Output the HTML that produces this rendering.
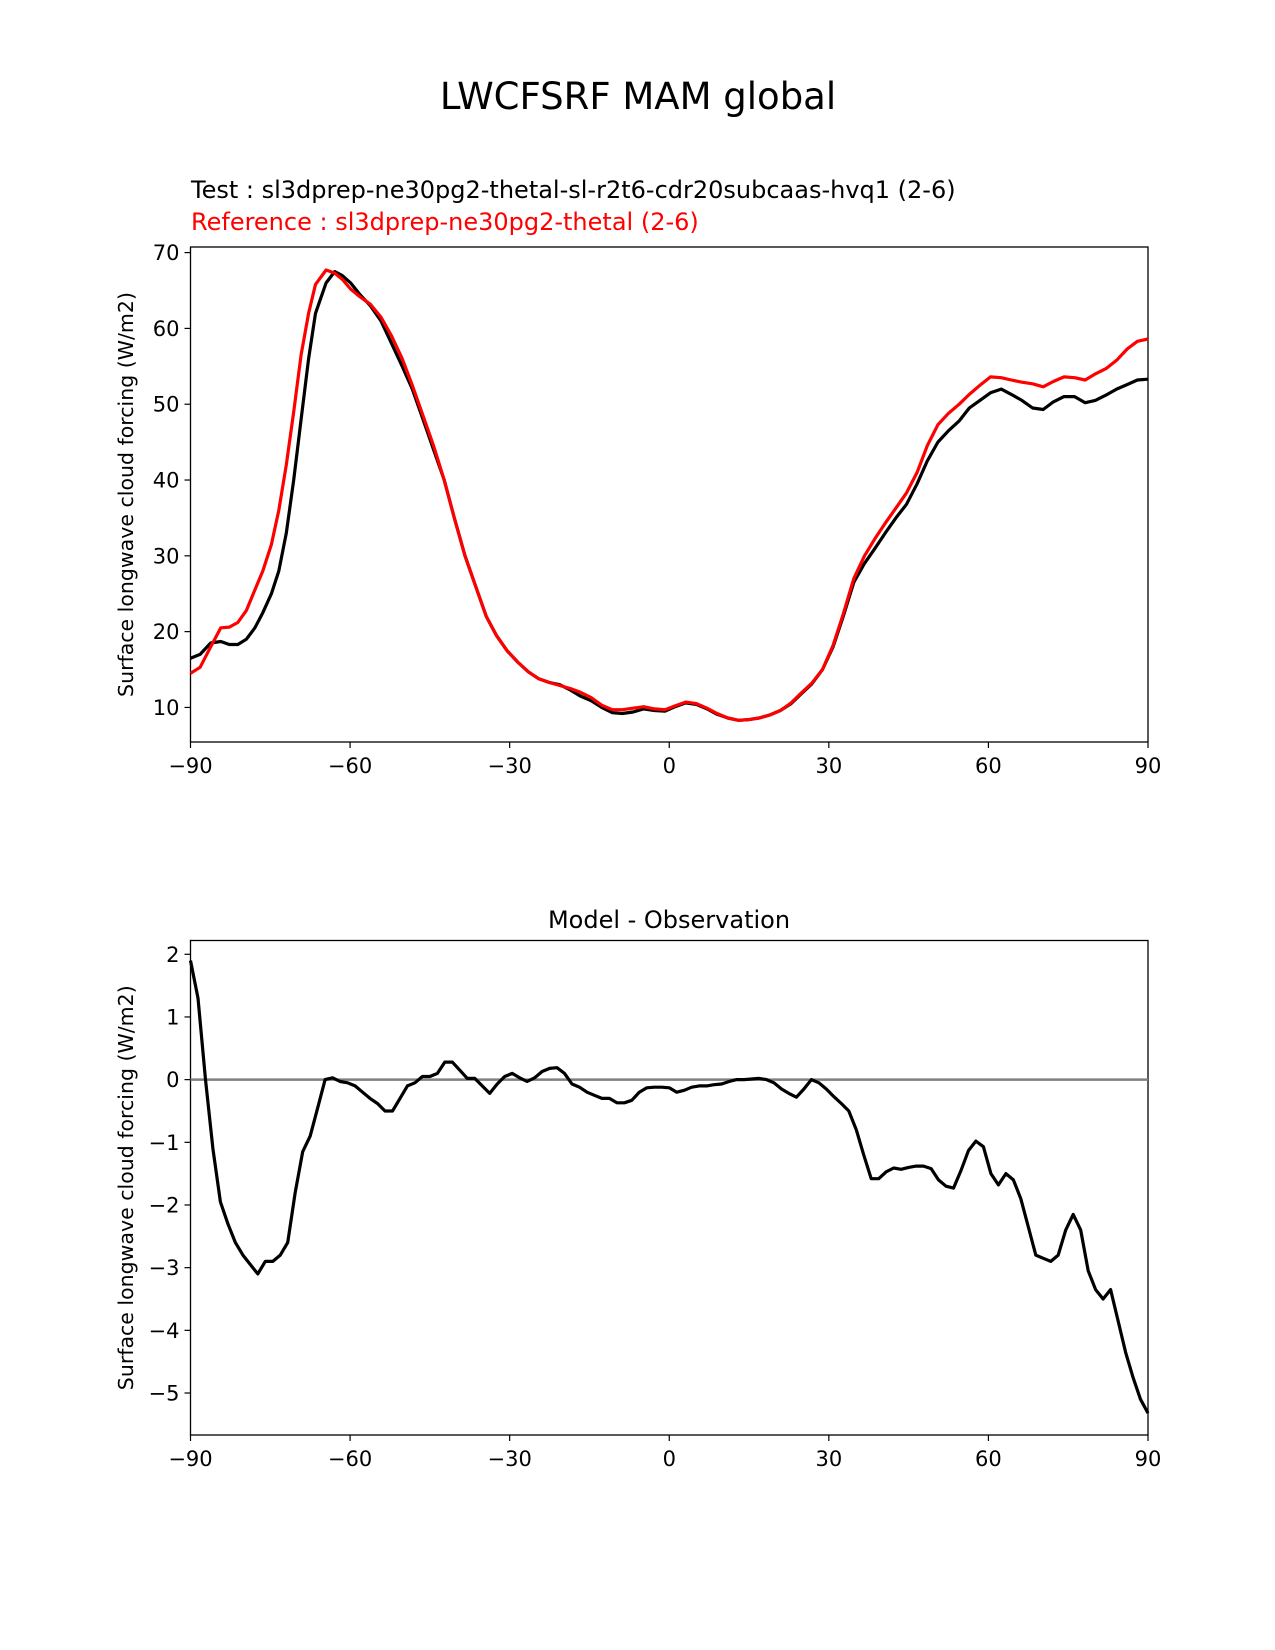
<!DOCTYPE html>
<html><head><meta charset="utf-8"><style>
body{margin:0;background:#fff;}
svg{display:block;font-family:"DejaVu Sans","Liberation Sans",sans-serif;}
</style></head><body>
<svg id="chart" width="1275" height="1650" viewBox="0 0 1275 1650">
<text x="638" y="109" font-size="37" text-anchor="middle">LWCFSRF MAM global</text>
<text x="191" y="198" font-size="24">Test : sl3dprep-ne30pg2-thetal-sl-r2t6-cdr20subcaas-hvq1 (2-6)</text>
<text x="191" y="230" font-size="24" fill="#ff0000">Reference : sl3dprep-ne30pg2-thetal (2-6)</text>
<text x="669" y="928" font-size="24" text-anchor="middle">Model - Observation</text>
<g id="top"></g>
<g id="bot"></g>
</svg>
<script>
const xTicks=[-90,-60,-30,0,30,60,90];
const topYTicks=[10,20,30,40,50,60,70];
const botYTicks=[2,1,0,-1,-2,-3,-4,-5];
const topLat=[-90,-88.2,-86.2,-84.3,-82.7,-81.1,-79.5,-77.9,-76.4,-74.8,-73.4,-72,-70.6,-69.2,-67.8,-66.5,-64.5,-62.9,-61.5,-59.9,-58.2,
-56.2,-54.2,-52.2,-50.2,-48.3,-46.3,-44.3,-42.3,-40.4,-38.4,-36.4,-34.4,-32.5,-30.5,-28.5,-26.5,-24.6,-22.6,-20.6,-18.6,-16.7,-14.7,-12.7,-10.7,-8.8,-6.8,-4.8,-2.8,-0.8,1.1,3.1,5.1,7.1,9.0,11.0,13,15,16.9,18.9,20.9,22.9,24.8,26.8,28.8,30.8,32.7,34.7,36.7,38.7,40.6,42.6,44.6,46.6,48.5,50.5,52.5,54.5,56.4,58.4,60.4,62.4,64.3,66.3,68.3,70.3,72.2,74.2,76.2,78.2,80.1,82.1,84.1,86.1,88.0,90];
const testVals=[16.5,17,18.5,18.7,18.3,18.3,19,20.5,22.5,25,28,33,40,48,56,62,66,67.5,67,66,64.5,
63,61,58,55,52,48,44,40,35,30,26,22,19.5,17.5,16,14.7,13.8,13.3,13,12.3,11.5,10.9,10,9.3,9.2,9.4,9.8,9.6,9.5,10.1,10.6,10.4,9.8,9.1,8.6,8.3,8.4,8.6,9,9.6,10.5,11.8,13.1,15,18,22,26.5,29,31,33,35,36.8,39.5,42.5,45,46.5,47.8,49.5,50.5,51.5,52,51.3,50.5,49.5,49.3,50.3,51,51,50.2,50.5,51.2,52,52.6,53.2,53.3];
const refVals=[14.5,15.3,18,20.5,20.6,21.2,22.8,25.5,28,31.5,36,42,49,56.5,62,65.8,67.7,67.3,66.5,65.2,64.2,
63.2,61.5,59,56,52.5,48.5,44.5,40,35,30,26,22,19.5,17.5,16,14.7,13.8,13.3,12.9,12.5,12,11.3,10.3,9.7,9.7,9.9,10.1,9.8,9.7,10.2,10.7,10.5,9.9,9.2,8.6,8.3,8.4,8.6,9,9.6,10.6,11.9,13.2,15,18.2,22.3,27,30,32.3,34.3,36.3,38.3,41,44.5,47.3,48.8,50,51.3,52.5,53.6,53.5,53.2,52.9,52.7,52.3,53,53.6,53.5,53.2,54,54.7,55.8,57.3,58.3,58.6];
const diffVals=[1.9,1.3,0,-1.1,-1.95,-2.3,-2.6,-2.8,-2.95,-3.1,-2.9,-2.9,-2.8,-2.6,-1.8,-1.15,-0.9,-0.45,0,0.03,-0.03,-0.05,-0.1,-0.2,-0.3,-0.38,-0.5,-0.5,-0.3,-0.1,-0.05,0.05,0.05,0.1,0.28,0.28,0.15,0.02,0.02,-0.1,-0.22,-0.07,0.05,0.1,0.03,-0.03,0.03,0.13,0.18,0.19,0.1,-0.07,-0.12,-0.2,-0.25,-0.3,-0.3,-0.37,-0.37,-0.33,-0.2,-0.13,-0.12,-0.12,-0.13,-0.2,-0.17,-0.12,-0.1,-0.1,-0.08,-0.07,-0.03,0,0,0.01,0.02,0,-0.05,-0.15,-0.22,-0.28,-0.15,0,-0.05,-0.15,-0.27,-0.38,-0.5,-0.8,-1.2,-1.58,-1.58,-1.47,-1.41,-1.43,-1.4,-1.38,-1.38,-1.42,-1.6,-1.7,-1.73,-1.45,-1.13,-0.98,-1.07,-1.5,-1.68,-1.5,-1.6,-1.9,-2.35,-2.8,-2.85,-2.9,-2.8,-2.4,-2.15,-2.4,-3.05,-3.35,-3.5,-3.35,-3.85,-4.35,-4.75,-5.1,-5.32];

const NS="http://www.w3.org/2000/svg";
function mk(tag,attrs,parent){const e=document.createElementNS(NS,tag);for(const k in attrs)e.setAttribute(k,attrs[k]);parent.appendChild(e);return e;}
const X0=190.5,X1=1148;
const xS=v=>X0+(v+90)/180*(X1-X0);

function panel(g,top,bottom,yMin,yMax,yTicks,ylabelX){
  const yS=v=>bottom-(v-yMin)/(yMax-yMin)*(bottom-top);
  const fr=mk('rect',{x:X0,y:top,width:X1-X0,height:bottom-top,fill:'none',stroke:'#000','stroke-width':1.3},g);
  
  
  xTicks.forEach(t=>{
    const x=xS(t);
    const l=mk('line',{x1:x,x2:x,y1:bottom,y2:bottom+6,stroke:'#000','stroke-width':1.2},g);
    
    
    const tx=mk('text',{x:x,y:bottom+31,'font-size':21,'text-anchor':'middle'},g);
    tx.textContent=(t<0?'\u2212'+(-t):t);
    
    
  });
  yTicks.forEach(t=>{
    const y=yS(t);
    const l=mk('line',{x1:X0-6,x2:X0,y1:y,y2:y,stroke:'#000','stroke-width':1.2},g);
    
    
    const tx=mk('text',{x:X0-11,y:y+7.5,'font-size':21,'text-anchor':'end'},g);
    tx.textContent=(t<0?'\u2212'+(-t):t);
    
    
  });
  const yl=mk('text',{x:0,y:0,'font-size':20.5,'text-anchor':'middle',transform:`translate(${ylabelX},${(top+bottom)/2}) rotate(-90)`},g);
  yl.textContent='Surface longwave cloud forcing (W/m2)';
  
  
  return yS;
}
function line(g,xs,ys,xS,yS,color,w,name){
  const d=xs.map((x,i)=>(i?'L':'M')+xS(x).toFixed(1)+','+yS(ys[i]).toFixed(1)).join(' ');
  const p=mk('path',{d:d,fill:'none',stroke:color,'stroke-width':w,'stroke-linejoin':'round'},g);
  
  
}
const gt=document.getElementById('top');
const ySt=panel(gt,247,742,5.44,70.74,topYTicks,133);
line(gt,topLat,testVals,xS,ySt,'#000',3.2,'test-series-line');
line(gt,topLat,refVals,xS,ySt,'#ff0000',3.2,'reference-series-line');

const gb=document.getElementById('bot');
const ySb=panel(gb,940.5,1435,-5.67,2.22,botYTicks,133);
const zl=mk('line',{x1:X0,x2:X1,y1:ySb(0),y2:ySb(0),stroke:'#808080','stroke-width':2.4},gb);


const diffLat=diffVals.map((v,i)=>-90+i*180/(diffVals.length-1));
line(gb,diffLat,diffVals,xS,ySb,'#000',3.2,'difference-series-line');
</script>
</body></html>
